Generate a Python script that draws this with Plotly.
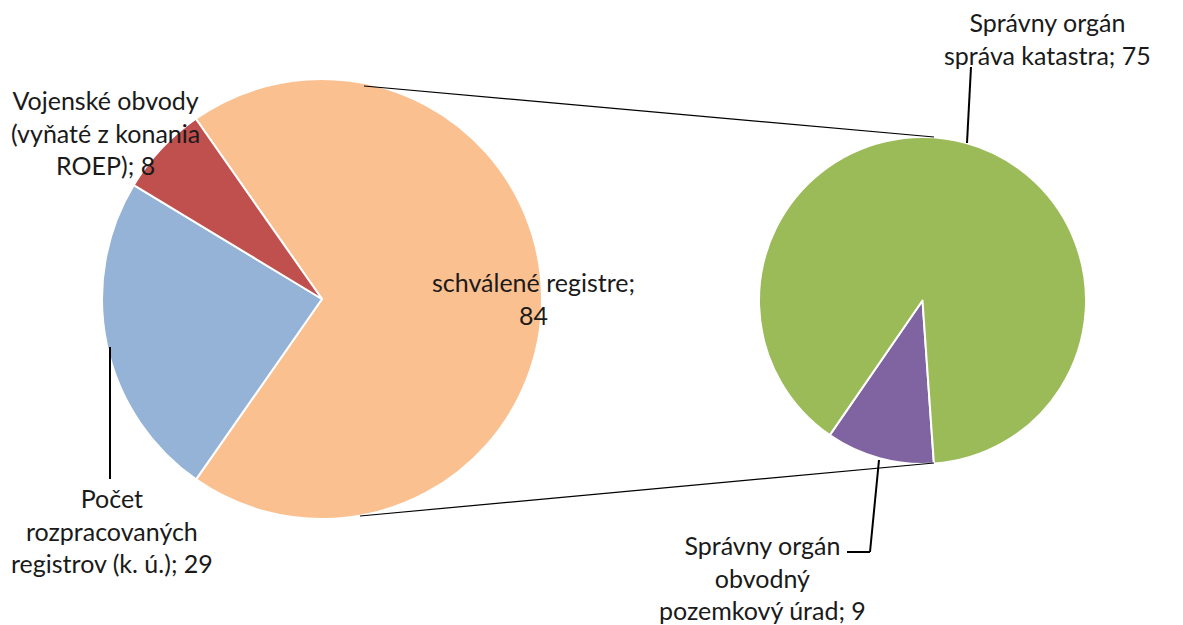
import plotly.graph_objects as go

W, H = 1183, 625
OFF = 8  # page body margin shifts the plot by this many pixels

# main pie
main_labels = ["schválené registre", "Počet rozpracovaných registrov (k. ú.)", "Vojenské obvody (vyňaté z konania ROEP)"]
main_values = [84, 29, 8]
main_colors = ["#FAC090", "#95B3D7", "#C0504D"]

# secondary pie (split of "schválené registre")
sub_labels = ["Správny orgán obvodný pozemkový úrad", "Správny orgán správa katastra"]
sub_values = [9, 75]
sub_colors = ["#8064A2", "#9BBB59"]

# wrapped label text for the annotations
main_text = ["schválené registre;<br>{}", "Počet<br>rozpracovaných<br>registrov (k. ú.); {}", "Vojenské obvody<br>(vyňaté z konania<br>ROEP); {}"]
sub_text = ["Správny orgán<br>obvodný<br>pozemkový úrad; {}", "Správny orgán<br>správa katastra; {}"]


def px(x):
    return (x - OFF) / W


def py(y):
    return 1 - (y - OFF) / H


fig = go.Figure()

fig.add_trace(go.Pie(
    labels=main_labels, values=main_values, sort=False, direction="clockwise", rotation=-35,
    marker=dict(colors=main_colors, line=dict(color="white", width=2)),
    textinfo="none", hoverinfo="label+value",
    domain=dict(x=[px(102), px(542)], y=[py(519), py(79)]),
))

fig.add_trace(go.Pie(
    labels=sub_labels, values=sub_values, sort=False, direction="clockwise", rotation=176,
    marker=dict(colors=sub_colors, line=dict(color="white", width=2)),
    textinfo="none", hoverinfo="label+value",
    domain=dict(x=[px(759), px(1086)], y=[py(464), py(137)]),
))

font = dict(family="Lato, Open Sans, sans-serif", size=25, color="#1a1a1a")

# label placement (pixel centres)
main_pos = [(533, 298), (112, 530), (105, 132)]
sub_pos = [(762, 577), (1047, 39)]

annotations = []
for txt, v, (x, y) in zip(main_text, main_values, main_pos):
    annotations.append(dict(text=txt.format(v), x=px(x), y=py(y), xref="paper", yref="paper",
                            showarrow=False, font=font, align="center", xanchor="center", yanchor="middle"))
for txt, v, (x, y) in zip(sub_text, sub_values, sub_pos):
    annotations.append(dict(text=txt.format(v), x=px(x), y=py(y), xref="paper", yref="paper",
                            showarrow=False, font=font, align="center", xanchor="center", yanchor="middle"))

shapes = []
# connector lines between the pies
for (x0, y0, x1, y1) in [(364, 86, 934, 137), (360, 516, 934, 463)]:
    shapes.append(dict(type="line", xref="paper", yref="paper", x0=px(x0), y0=py(y0), x1=px(x1), y1=py(y1),
                       line=dict(color="black", width=1.2)))
# leader lines
for (x0, y0, x1, y1) in [(110, 347, 110, 479), (971, 67, 967, 143), (879, 460, 870, 552), (870, 552, 847, 552)]:
    shapes.append(dict(type="line", xref="paper", yref="paper", x0=px(x0), y0=py(y0), x1=px(x1), y1=py(y1),
                       line=dict(color="black", width=2)))

fig.update_layout(
    width=W, height=H,
    margin=dict(l=0, r=0, t=0, b=0),
    paper_bgcolor="white", plot_bgcolor="white",
    showlegend=False,
    annotations=annotations,
    shapes=shapes,
)

fig.write_html("out.html")
